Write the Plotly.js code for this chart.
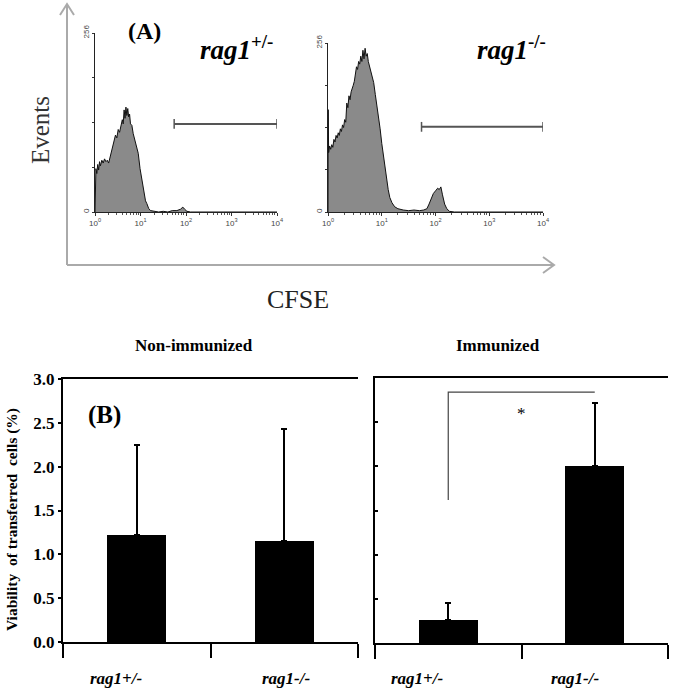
<!DOCTYPE html>
<html><head><meta charset="utf-8">
<script src="https://cdn.plot.ly/plotly-3.0.1.min.js"></script>
<style>html,body{margin:0;padding:0;background:#fff}#chart{width:675px;height:688px}</style>
</head><body><div id="chart"></div>
<script>
// ---- Panel A: CFSE histograms (x in log10 decades, y = events) ----
const hetLog = [0.00,0.005,0.02,0.04,0.06,0.08,0.10,0.12,0.15,0.18,0.21,0.24,0.27,0.30,0.33,0.36,0.39,0.42,0.45,0.48,0.51,0.54,0.57,0.60,0.62,0.64,0.66,0.68,0.70,0.72,0.74,0.76,0.78,0.81,0.84,0.88,0.92,0.95,0.99,1.03,1.07,1.11,1.14,1.18,1.22,1.30,1.40,1.50,1.60,1.70,1.80,1.88,1.93,1.97,2.02,2.10,2.5,3.0,3.5,4.0];
const hetCount = [0,48,62,55,68,60,72,66,74,70,76,72,74,70,78,86,98,104,110,106,118,114,126,132,126,146,134,150,138,148,136,140,126,124,112,100,92,84,62,45,28,16,12,5,2,1,0,1,0,2,2,4,7,4,1,0,0,0,0,0];
const koLog = [0.00,0.004,0.012,0.03,0.05,0.07,0.09,0.11,0.13,0.15,0.17,0.19,0.21,0.23,0.25,0.27,0.29,0.31,0.33,0.35,0.37,0.39,0.41,0.43,0.45,0.47,0.49,0.51,0.53,0.55,0.57,0.59,0.61,0.63,0.65,0.67,0.69,0.71,0.73,0.75,0.77,0.79,0.82,0.85,0.88,0.91,0.94,0.97,1.00,1.03,1.06,1.09,1.12,1.15,1.19,1.24,1.30,1.40,1.50,1.60,1.70,1.78,1.84,1.88,1.92,1.96,2.00,2.04,2.07,2.10,2.13,2.17,2.21,2.26,2.35,3.0,4.0];
const koCount = [0,155,90,100,95,102,98,110,106,116,112,120,116,126,122,132,128,140,136,165,158,176,170,182,186,192,198,214,220,216,228,224,236,228,245,232,248,236,240,228,222,214,206,196,178,162,145,126,104,86,66,48,34,22,14,8,5,3,2,3,2,3,5,12,20,28,32,36,34,38,26,12,5,1,0,0,0];
const gateLog = [1.74, 4.0];
const gateCountHet = 126;
const gateCountKo = 129;
const decadeTicks = [0,1,2,3,4];
const decadeLabels = ['10<sup>0</sup>','10<sup>1</sup>','10<sup>2</sup>','10<sup>3</sup>','10<sup>4</sup>'];

// ---- Panel B: viability bars ----
const genotypes = ['rag1+/-','rag1-/-'];
const nonImmunized = [1.22, 1.15];
const nonImmunizedErr = [1.03, 1.28];
const immunized = [0.26, 2.00];
const immunizedErr = [0.19, 0.72];
const yTicks = [0,0.5,1.0,1.5,2.0,2.5,3.0];
const sigBracketX = ['rag1+/-','rag1+/-','rag1-/-'];
const sigBracketY = [1.62, 2.84, 2.84];

const W = 675, H = 688;
const px = x => x / W, py = y => 1 - y / H;

// minor log ticks
const minorVals = [];
for (let d = 0; d < 4; d++) for (let k = 2; k < 10; k++) minorVals.push(d + Math.log10(k));

const serif = 'Liberation Serif, serif';

function histX(dom, anchor) {
  return {domain: dom, anchor: anchor, range: [0, 4], showgrid: false, zeroline: false,
    showline: true, linecolor: '#222', linewidth: 1, ticks: 'outside', ticklen: 3, tickcolor: '#333',
    tickvals: decadeTicks, ticktext: decadeLabels,
    tickfont: {family: 'Liberation Sans, Arial', size: 8, color: '#444'},
    minor: {tickvals: minorVals, ticks: 'outside', ticklen: 2, tickcolor: '#555', showgrid: false},
    fixedrange: true};
}
function histY(dom, anchor) {
  return {domain: dom, anchor: anchor, range: [0, 256], showgrid: false, zeroline: false,
    showline: true, linecolor: '#222', linewidth: 1, ticks: 'outside', ticklen: 2, tickcolor: '#333',
    tickvals: [0,64,128,192,256], ticktext: ['0','','','','256'], tickangle: -90,
    tickfont: {family: 'Liberation Sans, Arial', size: 8, color: '#444'}, fixedrange: true};
}

const data = [
  {x: hetLog, y: hetCount, xaxis: 'x', yaxis: 'y', type: 'scatter', mode: 'lines',
   fill: 'tozeroy', fillcolor: '#8a8a8a', line: {color: '#111', width: 1}, hoverinfo: 'skip'},
  {x: koLog, y: koCount, xaxis: 'x2', yaxis: 'y2', type: 'scatter', mode: 'lines',
   fill: 'tozeroy', fillcolor: '#8a8a8a', line: {color: '#111', width: 1}, hoverinfo: 'skip'},
  {x: gateLog, y: [gateCountHet, gateCountHet], xaxis: 'x', yaxis: 'y', type: 'scatter', mode: 'lines+markers',
   line: {color: '#555', width: 2}, marker: {symbol: 'line-ns', size: 7, line: {color: '#555', width: 1.5}}, hoverinfo: 'skip'},
  {x: gateLog, y: [gateCountKo, gateCountKo], xaxis: 'x2', yaxis: 'y2', type: 'scatter', mode: 'lines+markers',
   line: {color: '#555', width: 2}, marker: {symbol: 'line-ns', size: 7, line: {color: '#555', width: 1.5}}, hoverinfo: 'skip'},
  {x: genotypes, y: nonImmunized, xaxis: 'x3', yaxis: 'y3', type: 'bar', width: 0.4,
   marker: {color: '#000'},
   error_y: {type: 'data', symmetric: false, array: nonImmunizedErr, arrayminus: [0,0], color: '#000', thickness: 2, width: 3}},
  {x: genotypes, y: immunized, xaxis: 'x4', yaxis: 'y4', type: 'bar', width: 0.4,
   marker: {color: '#000'},
   error_y: {type: 'data', symmetric: false, array: immunizedErr, arrayminus: [0,0], color: '#000', thickness: 2, width: 3}},
  {x: sigBracketX, y: sigBracketY, xaxis: 'x4', yaxis: 'y4', type: 'scatter', mode: 'lines',
   line: {color: '#444', width: 1.2}, hoverinfo: 'skip'}
];

function barX(dom, anchor) {
  return {domain: dom, anchor: anchor, type: 'category', range: [-0.5, 1.5], showgrid: false, zeroline: false,
    showline: true, mirror: true, linecolor: '#000', linewidth: 2,
    ticks: 'outside', tickson: 'boundaries', ticklen: 14, tickwidth: 2, tickcolor: '#000',
    showticklabels: false, fixedrange: true};
}

const bold = (size, color) => ({family: serif, size: size, color: color || '#000', weight: 'bold'});

const layout = {
  width: W, height: H, margin: {l: 0, r: 0, t: 0, b: 0},
  paper_bgcolor: '#fff', plot_bgcolor: 'rgba(0,0,0,0)', showlegend: false,
  bargap: 0,
  xaxis: histX([px(95), px(277)], 'y'),
  yaxis: histY([py(212), py(33)], 'x'),
  xaxis2: histX([px(328), px(543)], 'y2'),
  yaxis2: histY([py(212), py(43)], 'x2'),
  xaxis3: barX([px(63), px(358)], 'y3'),
  yaxis3: {domain: [py(642), py(379)], anchor: 'x3', range: [0, 3], showgrid: false, zeroline: false,
    showline: true, linecolor: '#000', linewidth: 2, ticks: 'outside', ticklen: 3, tickwidth: 2, tickcolor: '#000',
    tickvals: yTicks, tickformat: '.1f',
    tickfont: bold(17), fixedrange: true},
  xaxis4: barX([px(375), px(668)], 'y4'),
  yaxis4: {domain: [py(643), py(378)], anchor: 'x4', range: [0, 3], showgrid: false, zeroline: false,
    showline: true, linecolor: '#000', linewidth: 2, ticks: 'inside', ticklen: 3, tickwidth: 2, tickcolor: '#000',
    tickvals: yTicks, showticklabels: false, fixedrange: true},
  shapes: [
    // big axis arrows for panel A
    {type: 'path', xref: 'paper', yref: 'paper',
     path: `M ${px(67)} ${py(265)} L ${px(67)} ${py(5)}`, line: {color: '#aaa', width: 2}},
    {type: 'path', xref: 'paper', yref: 'paper',
     path: `M ${px(60)} ${py(15)} L ${px(67)} ${py(4)} L ${px(74)} ${py(15)}`, line: {color: '#aaa', width: 2}},
    {type: 'path', xref: 'paper', yref: 'paper',
     path: `M ${px(67)} ${py(265)} L ${px(553)} ${py(265)}`, line: {color: '#aaa', width: 2}},
    {type: 'path', xref: 'paper', yref: 'paper',
     path: `M ${px(543)} ${py(257)} L ${px(554)} ${py(265)} L ${px(543)} ${py(273)}`, line: {color: '#aaa', width: 2}}
  ],
  annotations: [
    {xref: 'paper', yref: 'paper', x: px(12), y: py(520), xanchor: 'center', yanchor: 'middle',
     text: 'Viability  of transferred  cells (%)', textangle: -90, showarrow: false, font: bold(15.5)},
    {xref: 'paper', yref: 'paper', x: px(40), y: py(130), xanchor: 'center', yanchor: 'middle',
     text: 'Events', textangle: -90, showarrow: false, font: {family: serif, size: 25, color: '#333'}},
    {xref: 'paper', yref: 'paper', x: px(298), y: py(299), xanchor: 'center', yanchor: 'middle',
     text: 'CFSE', showarrow: false, font: {family: serif, size: 26, color: '#222'}},
    {xref: 'paper', yref: 'paper', x: px(144), y: py(31), xanchor: 'center', yanchor: 'middle',
     text: '(A)', showarrow: false, font: bold(24)},
    {xref: 'paper', yref: 'paper', x: px(236), y: py(48), xanchor: 'center', yanchor: 'middle',
     text: '<i>rag1</i><sup>+/-</sup>', showarrow: false, font: bold(27)},
    {xref: 'paper', yref: 'paper', x: px(511), y: py(48), xanchor: 'center', yanchor: 'middle',
     text: '<i>rag1</i><sup>-/-</sup>', showarrow: false, font: bold(27)},
    {xref: 'paper', yref: 'paper', x: px(194), y: py(345), xanchor: 'center', yanchor: 'middle',
     text: 'Non-immunized', showarrow: false, font: bold(17)},
    {xref: 'paper', yref: 'paper', x: px(498), y: py(345), xanchor: 'center', yanchor: 'middle',
     text: 'Immunized', showarrow: false, font: bold(17)},
    {xref: 'paper', yref: 'paper', x: px(104), y: py(415), xanchor: 'center', yanchor: 'middle',
     text: '(B)', showarrow: false, font: bold(25)},
    {xref: 'x4', yref: 'y4', x: 0.5, y: 2.6, text: '*', showarrow: false,
     font: {family: serif, size: 17, color: '#000'}},
    // category labels under bars
    {xref: 'x3', yref: 'paper', x: 0, y: py(678), xshift: -20, xanchor: 'center', yanchor: 'middle',
     text: '<i>rag1+/-</i>', showarrow: false, font: bold(17)},
    {xref: 'x3', yref: 'paper', x: 1, y: py(678), xshift: 2, xanchor: 'center', yanchor: 'middle',
     text: '<i>rag1-/-</i>', showarrow: false, font: bold(17)},
    {xref: 'x4', yref: 'paper', x: 0, y: py(678), xshift: -31, xanchor: 'center', yanchor: 'middle',
     text: '<i>rag1+/-</i>', showarrow: false, font: bold(17)},
    {xref: 'x4', yref: 'paper', x: 1, y: py(678), xshift: -19, xanchor: 'center', yanchor: 'middle',
     text: '<i>rag1-/-</i>', showarrow: false, font: bold(17)}
  ]
};

Plotly.newPlot('chart', data, layout, {staticPlot: true, displayModeBar: false});
</script></body></html>
